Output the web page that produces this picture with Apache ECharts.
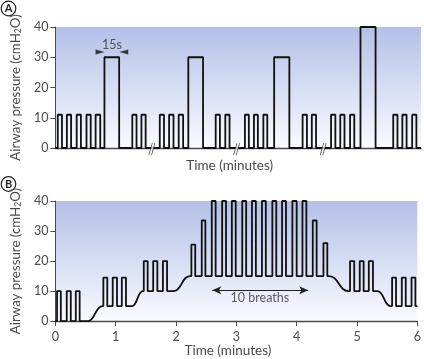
<!DOCTYPE html>
<html><head><meta charset="utf-8">
<script src="https://cdn.jsdelivr.net/npm/echarts@6/dist/echarts.min.js"></script>
<style>html,body{margin:0;padding:0;background:#fff}#c{width:424px;height:359px}</style>
</head><body><div id="c"></div>
<script>
// ---------- Panel A (time axis in seconds, with axis breaks) ----------
const aPulseStart = [2.4,11.7,21.7,31.7,41, 50, 78.4,87.7, 106.4,115.9,125.7, 135.5, 163.4,173.2, 193.2,202.4,212, 223, 252,261.4, 281,290.4,300.4, 311, 344.4,353.7,363.7];
const aPulseEnd   = [6.7,16,26,36,45.7, 65, 82.7,92, 110.7,120.4,130.2, 150.5, 167.7,177.5, 197.2,206.4,216, 238.5, 256.4,265.7, 285.4,294.7,304.7, 326.4, 348.7,358,368];
const aPulseLevel = [11,11,11,11,11, 30, 11,11, 11,11,11, 30, 11,11, 11,11,11, 30, 11,11, 11,11,11, 40, 11,11,11];
const aEnd = 372.7;
const aBreaks = [98.4, 184.7, 273];
const aNote = {text: '15s', x: 57.7, y: 34.2};
const aArrows = [[45.5, 31.7], [69.7, 31.7]];

// ---------- Panel B (time in minutes) ----------
const bTicks = [0,1,2,3,4,5,6];
const bPulseStart = [0.027,0.188,0.338, 0.795,0.95,1.101, 1.465,1.621,1.782,
  2.254,2.426,2.592,2.764,2.925,3.097,3.258,3.424,3.596,3.757,3.928,4.095,4.266,4.443,
  4.884,5.045,5.195, 5.581,5.742,5.903];
const bPulseEnd = [0.09,0.255,0.402, 0.86,1.021,1.17, 1.529,1.69,1.851,
  2.318,2.486,2.656,2.828,2.989,3.162,3.323,3.488,3.661,3.822,3.999,4.160,4.330,4.507,
  4.953,5.109,5.264, 5.646,5.807,5.967];
const bPulsePeak = [10,10,10, 14.5,14.5,14.5, 20,20,20,
  25.5,33.5,40,40,40,40,40,40,40,40,40,40,33.5,26,
  20,20,20, 14.5,14.5,14.5];
const bPulseBase = [0,0,0, 5,5,5, 10,10,10,
  15,15,15,15,15,15,15,15,15,15,15,15,15,15,
  10,10,10, 5,5,5];
const bRampStart = [0.538, 1.27, 1.959, 4.535, 5.34];
const bRampEnd   = [0.779, 1.449, 2.228, 4.857, 5.554];
const bRampFrom  = [0, 5, 10, 15, 10];
const bRampTo    = [5, 10, 15, 10, 5];
const bEnd = 6, bEndLevel = 5;
const bBreathsArrow = [[2.60, 10.3], [4.19, 10.3]];
const bNote = {text: '10 breaths', x: 3.39, y: 7.6};

// ---------- build traces ----------
function buildA() {
  const pts = [[0, 0]];
  for (let i = 0; i < aPulseStart.length; i++) {
    pts.push([aPulseStart[i], 0], [aPulseStart[i], aPulseLevel[i]], [aPulseEnd[i], aPulseLevel[i]], [aPulseEnd[i], 0]);
  }
  pts.push([aEnd, 0]);
  return pts;
}
function buildB() {
  const ev = [];
  for (let i = 0; i < bPulseStart.length; i++) ev.push({t: bPulseStart[i], k: 'p', i});
  for (let i = 0; i < bRampStart.length; i++) ev.push({t: bRampStart[i], k: 'r', i});
  ev.sort((a, b) => a.t - b.t);
  const pts = [[0, 0]];
  ev.forEach(e => {
    const i = e.i;
    if (e.k === 'p') {
      pts.push([bPulseStart[i], bPulseBase[i]], [bPulseStart[i], bPulsePeak[i]], [bPulseEnd[i], bPulsePeak[i]], [bPulseEnd[i], bPulseBase[i]]);
    } else {
      pts.push([bRampStart[i], bRampFrom[i]], [bRampEnd[i], bRampTo[i]]);
    }
  });
  pts.push([bEnd, bEndLevel]);
  return pts;
}

const FONT = 'Lato, "Noto Sans", sans-serif';
const AX = '#4a4a4a';
const bg = () => new echarts.graphic.LinearGradient(0, 0, 0, 1, [
  {offset: 0, color: '#b3c0e7'}, {offset: 1, color: '#fafbff'}]);

function yAxis(gi) {
  return {
    type: 'value', gridIndex: gi, min: 0, max: 40, interval: 10,
    name: 'Airway pressure (cmH{sub|2}O)', nameLocation: 'middle', nameGap: 27,
    nameTextStyle: {color: AX, fontFamily: FONT, fontSize: 13.3, lineHeight: 15,
      rich: {sub: {fontSize: 8.5, verticalAlign: 'bottom', color: AX, fontFamily: FONT}}},
    axisLine: {show: true, lineStyle: {color: AX, width: 1}},
    axisTick: {show: true, length: 5, lineStyle: {color: AX}},
    axisLabel: {color: AX, fontFamily: FONT, fontSize: 12.5, margin: 7},
    splitLine: {show: false}
  };
}

const chart = echarts.init(document.getElementById('c'), null, {renderer: 'canvas'});
chart.setOption({
  animation: false,
  grid: [
    {left: 48, top: 27, width: 373, height: 121, show: true, borderWidth: 0, backgroundColor: bg()},
    {left: 48, top: 201, width: 373, height: 121, show: true, borderWidth: 0, backgroundColor: bg()}
  ],
  xAxis: [
    {type: 'value', gridIndex: 0, min: 0, max: aEnd, offset: 3,
     name: 'Time (minutes)', nameLocation: 'middle', nameGap: 8,
     nameTextStyle: {color: AX, fontFamily: FONT, fontSize: 13.5, padding: [0, 17, 0, 0]},
     axisLine: {show: true, lineStyle: {color: AX, width: 1.4}},
     axisTick: {show: false}, axisLabel: {show: false}, splitLine: {show: false}},
    {type: 'value', gridIndex: 1, min: 0, max: 6, interval: 1, offset: 3,
     name: 'Time (minutes)', nameLocation: 'middle', nameGap: 19,
     nameTextStyle: {color: AX, fontFamily: FONT, fontSize: 13.5, padding: [0, 17, 0, 0]},
     axisLine: {show: true, lineStyle: {color: AX, width: 1.4}},
     axisTick: {show: true, length: 5, lineStyle: {color: AX}},
     axisLabel: {color: AX, fontFamily: FONT, fontSize: 12.5, margin: 6,
       formatter: v => bTicks.includes(v) ? String(v) : ''},
     splitLine: {show: false}}
  ],
  yAxis: [yAxis(0), yAxis(1)],
  graphic: [
    {type: 'circle', shape: {cx: 8.5, cy: 8.5, r: 7.3}, style: {fill: '#fff', stroke: '#222', lineWidth: 1.2}},
    {type: 'text', x: 8.5, y: 8.8, style: {text: 'A', fill: '#222', font: 'bold 11px ' + FONT, align: 'center', verticalAlign: 'middle'}},
    {type: 'circle', shape: {cx: 8.5, cy: 184, r: 7.3}, style: {fill: '#fff', stroke: '#222', lineWidth: 1.2}},
    {type: 'text', x: 8.5, y: 184.3, style: {text: 'B', fill: '#222', font: 'bold 11px ' + FONT, align: 'center', verticalAlign: 'middle'}}
  ],
  series: [
    {type: 'line', xAxisIndex: 0, yAxisIndex: 0, data: buildA(), showSymbol: false, symbol: 'none',
     lineStyle: {color: '#111', width: 1.8}, clip: false, z: 3},
    {type: 'scatter', xAxisIndex: 0, yAxisIndex: 0, clip: false, z: 4,
     data: aBreaks.map(x => [x, -0.4]), symbol: 'path://M0,12L4,0L7,0L3,12Z', symbolSize: [6, 12],
     itemStyle: {color: '#fff', borderWidth: 0}},
    {type: 'scatter', xAxisIndex: 0, yAxisIndex: 0, clip: false, z: 5,
     data: aBreaks.map(x => [x, -0.4]), symbol: 'path://M0,12L4,0M3,12L7,0', symbolSize: [6, 12],
     itemStyle: {color: 'rgba(0,0,0,0)', borderColor: '#222', borderWidth: 1}},
    {type: 'scatter', xAxisIndex: 0, yAxisIndex: 0, clip: false, z: 5,
     data: [{value: aArrows[0], symbolRotate: -90}, {value: aArrows[1], symbolRotate: 90}],
     symbol: 'triangle', symbolSize: [5, 9], itemStyle: {color: '#111'}},
    {type: 'scatter', xAxisIndex: 0, yAxisIndex: 0, clip: false, z: 5,
     data: [[aNote.x, aNote.y]], symbolSize: 0,
     label: {show: true, position: 'inside', formatter: aNote.text, color: '#333', fontFamily: FONT, fontSize: 12.5}},
    {type: 'line', xAxisIndex: 1, yAxisIndex: 1, data: buildB(), showSymbol: false, symbol: 'none',
     smooth: 0.5, smoothMonotone: 'x',
     lineStyle: {color: '#111', width: 1.8}, clip: false, z: 3,
     markLine: {silent: true, symbol: ['arrow', 'arrow'], symbolSize: [6, 9],
       lineStyle: {color: '#222', width: 1, type: 'solid'}, label: {show: false},
       data: [[{coord: bBreathsArrow[0]}, {coord: bBreathsArrow[1]}]]}},
    {type: 'scatter', xAxisIndex: 1, yAxisIndex: 1, clip: false, z: 5,
     data: [[bNote.x, bNote.y]], symbolSize: 0,
     label: {show: true, position: 'inside', formatter: bNote.text, color: '#333', fontFamily: FONT, fontSize: 12.5}}
  ]
});
</script>
</body></html>
